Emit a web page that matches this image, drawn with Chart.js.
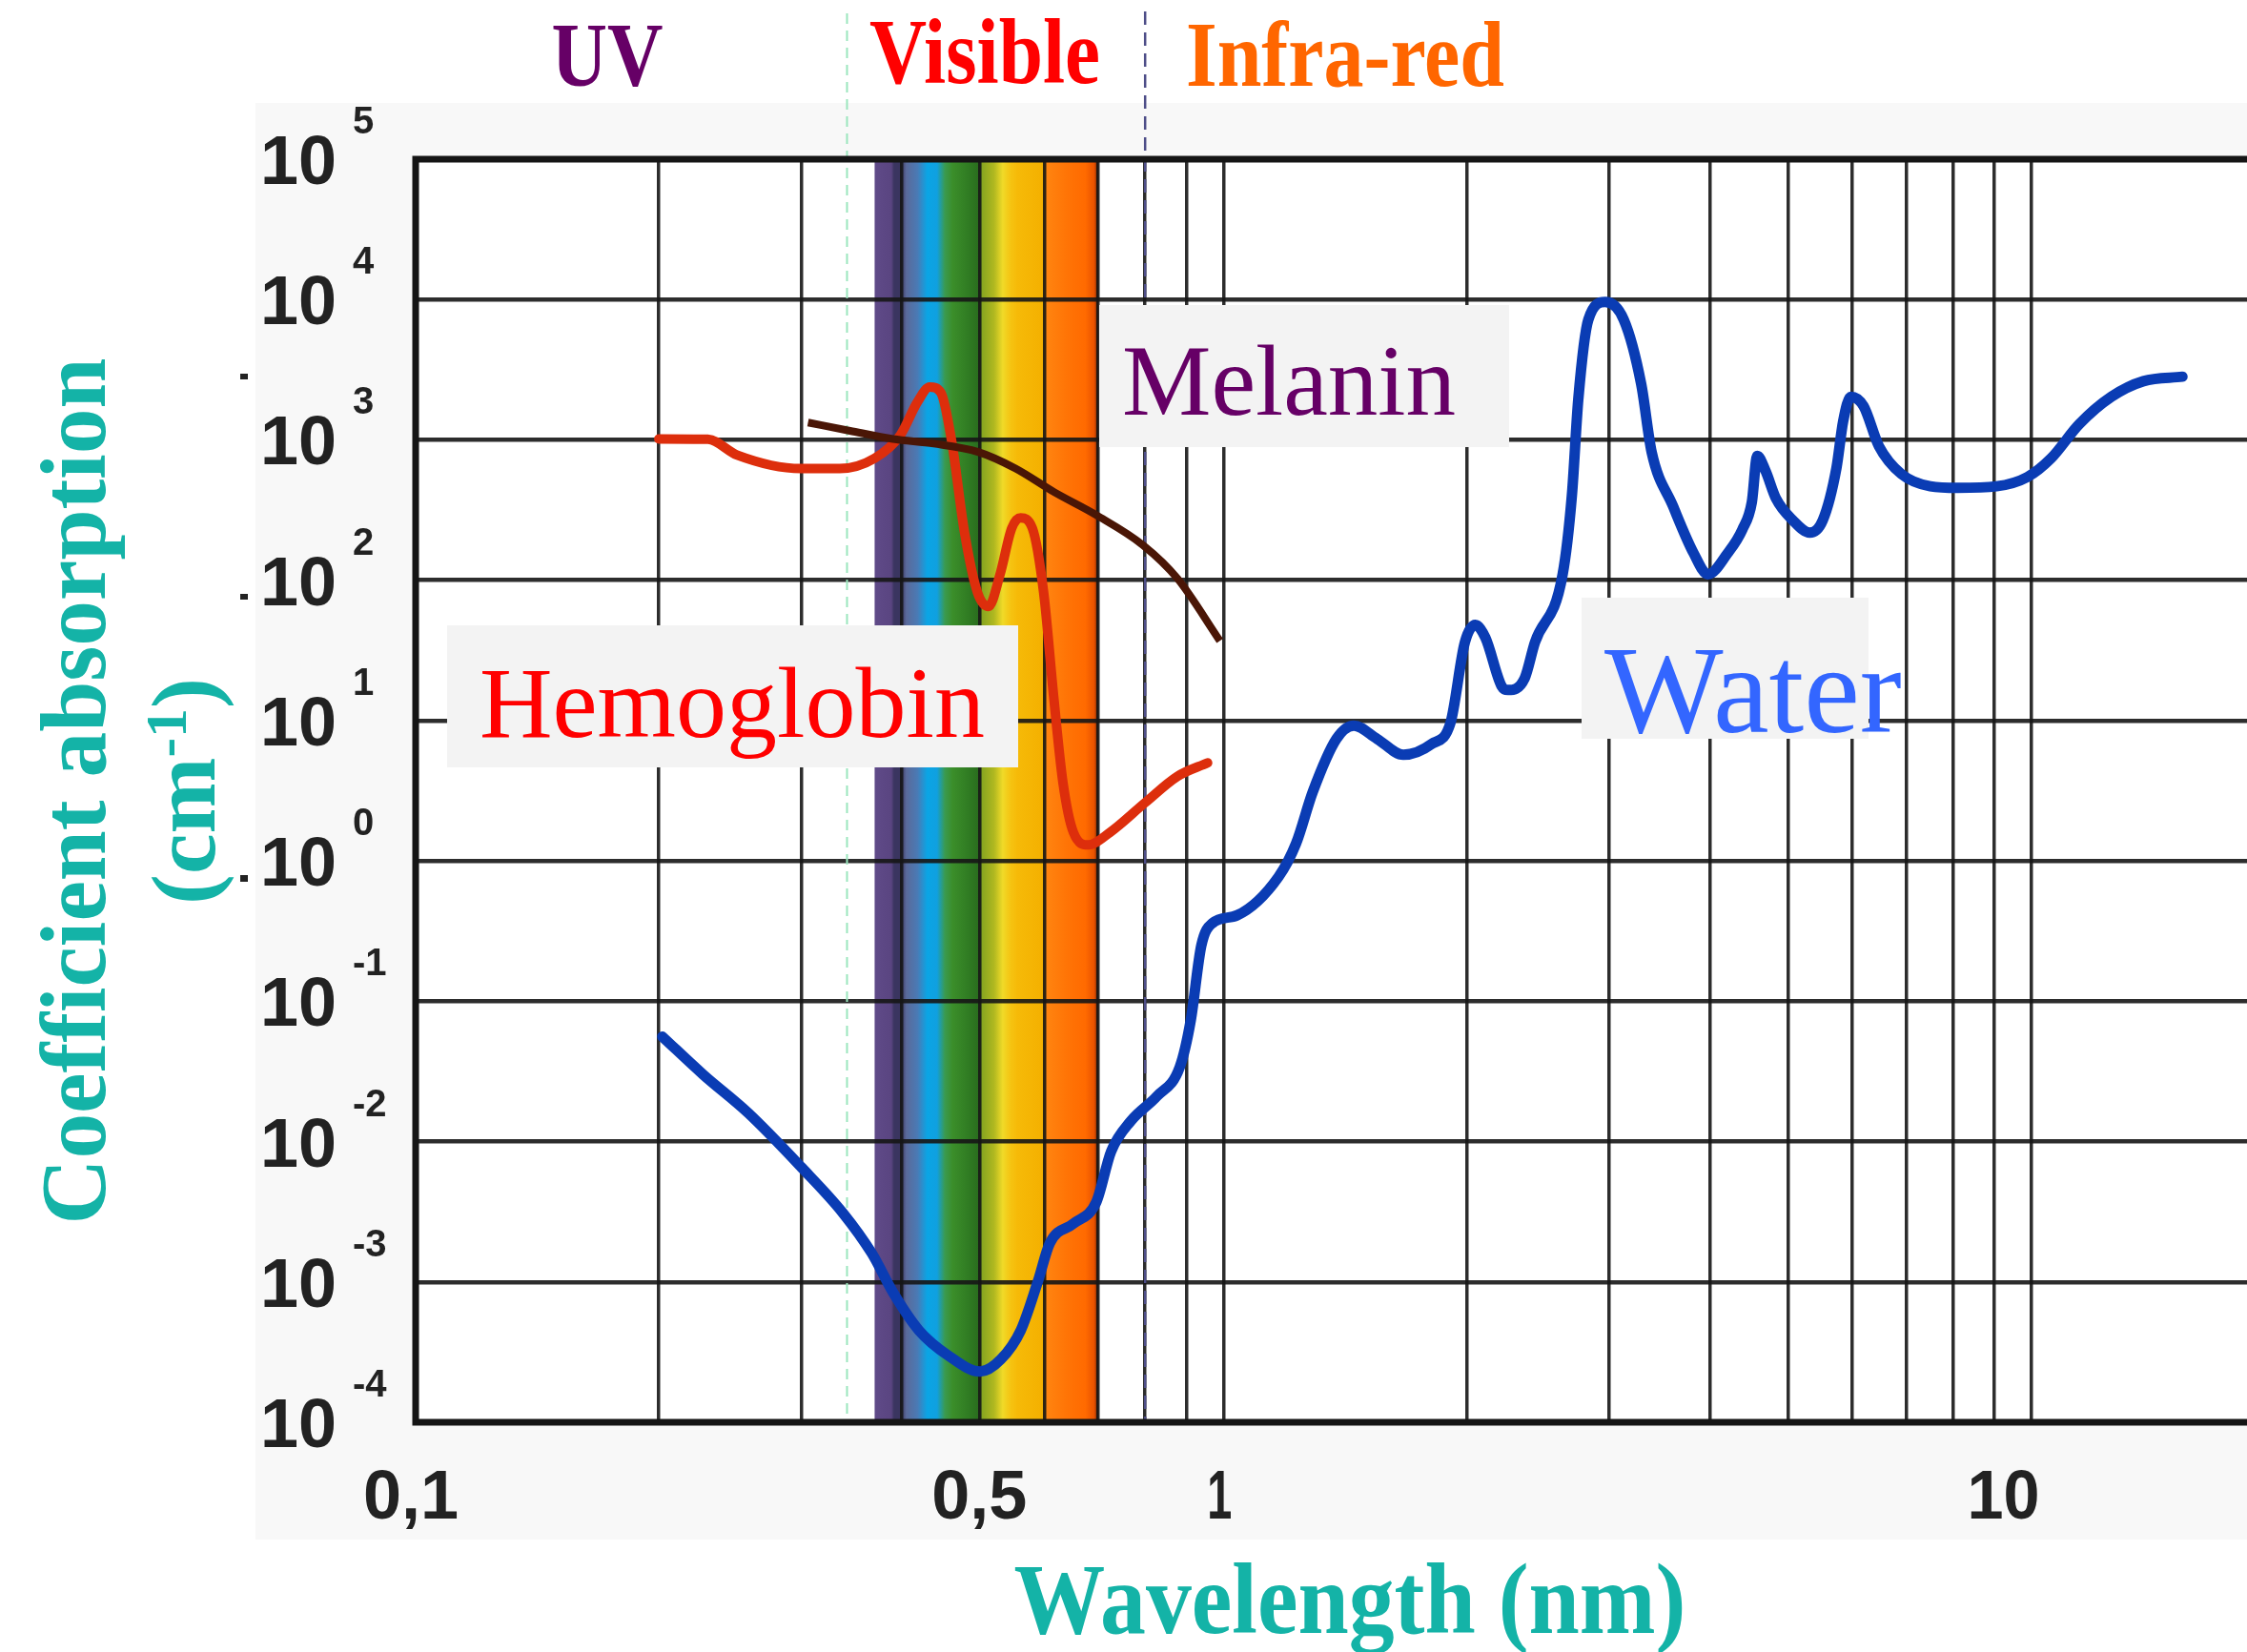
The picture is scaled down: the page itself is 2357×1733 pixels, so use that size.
<!DOCTYPE html>
<html>
<head>
<meta charset="utf-8">
<script src="https://cdn.jsdelivr.net/npm/chart.js@4.4.1/dist/chart.umd.min.js"></script>
<style>
html,body{margin:0;padding:0;background:#fff;overflow:hidden}
canvas{display:block}
</style>
</head>
<body>
<canvas id="c" width="2357" height="1733" style="width:2357px;height:1733px"></canvas>
<script>
// ---------- data (wavelength in the axis unit, absorption coefficient in cm^-1) ----------
const waterWavelength = [0.202,0.227,0.258,0.3,0.338,0.367,0.39,0.42,0.456,0.5,0.53,0.561,0.589,0.61,0.652,0.696,0.726,0.768,0.827,0.883,0.911,0.939,0.969,1.04,1.17,1.23,1.29,1.38,1.45,1.55,1.67,1.81,1.91,1.99,2.05,2.11,2.21,2.25,2.36,2.43,2.63,2.70,2.75,2.83,2.97,3.13,3.29,3.39,3.6,3.82,3.98,4.21,4.39,4.51,4.58,4.69,4.83,5.07,5.32,5.52,5.74,5.85,5.98,6.2,6.48,6.91,7.5,8.11,9.06,9.89,10.58,11.47,12.57,13.77,15.39];
const waterAbsorption = [0.056,0.030,0.016,0.0066,0.0031,0.0016,0.00084,0.00045,0.0003,0.00023,0.00028,0.00045,0.001,0.0019,0.0026,0.0037,0.0085,0.014,0.021,0.034,0.073,0.25,0.36,0.41,0.77,1.33,3.1,7.4,9.2,7.4,5.7,6.8,9.6,36,48,39,17.6,16.5,20,36,110,400,1950,7200,9600,7200,2500,815,340,156,110,156,230,360,770,600,383,267,218,267,630,1350,2030,1745,900,570,467,455,467,543,737,1295,2030,2620,2820];

const hemoglobinWavelength = [0.2,0.23,0.25,0.3,0.335,0.37,0.398,0.418,0.433,0.447,0.461,0.478,0.496,0.512,0.529,0.547,0.561,0.58,0.599,0.617,0.633,0.652,0.68,0.724,0.8,0.877,0.956];
const hemoglobinAbsorption = [1015,1010,780,625,625,740,1080,1860,2380,2170,970,220,82,65,110,235,278,235,82,14,3.6,1.6,1.3,1.6,2.6,4.0,5.0];

const melaninWavelength = [0.306,0.345,0.39,0.438,0.497,0.553,0.617,0.697,0.795,0.877,0.99];
const melaninAbsorption = [1330,1160,1015,940,820,625,425,290,178,103,37];

// grid / tick values
const xGridValues = [0.1,0.2,0.3,0.4,0.5,0.6,0.7,0.8,0.9,1,2,3,4,5,6,7,8,9,10];
const yGridValues = [1e-4,1e-3,1e-2,1e-1,1,10,100,1e3,1e4,1e5];
const xTickValues = [0.1,0.5,1,10];
const xTickLabels = ['0,1','0,5','1','10'];
const yTickExponents = ['-4','-3','-2','-1','0','1','2','3','4','5'];

// visible spectrum band (wavelength -> colour)
const spectrumWavelength = [0.370,0.388,0.391,0.399,0.405,0.418,0.43,0.442,0.452,0.462,0.485,0.497,0.503,0.52,0.533,0.545,0.556,0.598,0.604,0.64,0.675,0.692,0.7];
const spectrumColor = ['#5F4A88','#5A4581','#3A3560','#3A3560','#5A6A9A','#4A7AB5','#0AA5E5','#10A0E0','#3A9A50','#3B8E2A','#2F7A22','#2A6E1E','#88A620','#B0B820','#F0DA28','#F5C412','#F6BA08','#F4B000','#FF8410','#FF7406','#FF6A00','#E85200','#5A1A05'];

// region boundaries (dashed lines)
const uvVisibleBoundary = 0.342;
const visibleIrBoundary = 0.8;

// ---------- drawing ----------
const SERIF = '"Liberation Serif", "Times New Roman", serif';
const SANS = '"Liberation Sans", Arial, sans-serif';
const TEAL = '#14B3A7';

function pts(xs, ys){ return xs.map((v,i)=>({x:v, y:ys[i]})); }

const decor = {
  id: 'decor',
  beforeDraw(chart){
    const {ctx, chartArea:a, scales:{x}} = chart;
    ctx.save();
    ctx.fillStyle = '#ffffff';
    ctx.fillRect(0,0,chart.width,chart.height);
    ctx.fillStyle = '#F8F8F8';
    ctx.fillRect(268,108,chart.width-268,1615-108);
    ctx.fillStyle = '#ffffff';
    ctx.fillRect(a.left,a.top,a.right-a.left,a.bottom-a.top);
    // spectrum
    const p0 = x.getPixelForValue(spectrumWavelength[0]);
    const p1 = x.getPixelForValue(spectrumWavelength[spectrumWavelength.length-1]);
    const g = ctx.createLinearGradient(p0,0,p1,0);
    spectrumWavelength.forEach((w,i)=>{
      g.addColorStop(Math.min(1,Math.max(0,(x.getPixelForValue(w)-p0)/(p1-p0))), spectrumColor[i]);
    });
    ctx.fillStyle = g;
    ctx.fillRect(p0,a.top,p1-p0,a.bottom-a.top);
    ctx.restore();
  },
  beforeDatasetsDraw(chart){
    const {ctx, chartArea:a, scales:{x}} = chart;
    ctx.save();
    // dashed boundaries
    ctx.lineWidth = 2;
    ctx.setLineDash([11,7]);
    ctx.strokeStyle = '#9BE6BD';
    let px = x.getPixelForValue(uvVisibleBoundary);
    ctx.beginPath(); ctx.moveTo(px,14); ctx.lineTo(px,a.bottom); ctx.stroke();
    ctx.strokeStyle = '#4E4E88';
    ctx.lineWidth = 2.5;
    ctx.setLineDash([14,8]);
    px = x.getPixelForValue(visibleIrBoundary);
    ctx.beginPath(); ctx.moveTo(px,12); ctx.lineTo(px,a.bottom); ctx.stroke();
    ctx.setLineDash([]);
    // plot frame (left, top, bottom)
    ctx.strokeStyle = '#151515';
    ctx.lineWidth = 7;
    ctx.beginPath();
    ctx.moveTo(a.right+5,a.top); ctx.lineTo(a.left,a.top); ctx.lineTo(a.left,a.bottom); ctx.lineTo(a.right+5,a.bottom);
    ctx.stroke();
    ctx.restore();
  },
  afterDatasetsDraw(chart){
    const {ctx} = chart;
    ctx.save();
    ctx.fillStyle = '#F3F3F3';
    ctx.fillRect(1153,320,430,149);   // Melanin box
    ctx.fillRect(469,656,599,149);    // Hemoglobin box
    ctx.fillRect(1659,627,301,148);   // Water box
    ctx.textBaseline = 'alphabetic';
    ctx.textAlign = 'left';
    ctx.fillStyle = '#660066';
    ctx.font = '106px ' + SERIF;
    ctx.fillText('Melanin', 1177, 435, 350);
    ctx.fillStyle = '#FF0000';
    ctx.font = '106px ' + SERIF;
    ctx.fillText('Hemoglobin', 503, 773, 534);
    ctx.fillStyle = '#3366FF';
    ctx.font = '132px ' + SERIF;
    ctx.fillText('Water', 1683, 768, 313);
    ctx.restore();
  },
  afterDraw(chart){
    const {ctx, scales:{x,y}} = chart;
    ctx.save();
    ctx.fillStyle = '#222222';
    // y tick labels 10^n
    yGridValues.forEach((v,i)=>{
      const py = y.getPixelForValue(v);
      ctx.font = 'bold 72px ' + SANS;
      ctx.textAlign = 'right';
      ctx.textBaseline = 'alphabetic';
      ctx.fillText('10', 353, py+26, 80);
      ctx.font = 'bold 40px ' + SANS;
      ctx.textAlign = 'left';
      ctx.fillText(yTickExponents[i], 370, py-27);
    });
    // stray marks left of labels
    ctx.fillRect(252,392,8,6);
    ctx.fillRect(252,623,8,6);
    ctx.fillRect(252,918,8,7);
    // x tick labels
    const shift = [-5,-1,-4,-29];
    ctx.font = 'bold 72px ' + SANS;
    ctx.textAlign = 'center';
    const xw = [105,107,26,76];
    xTickValues.forEach((v,i)=>{
      ctx.fillText(xTickLabels[i], x.getPixelForValue(v)+shift[i], 1593, xw[i]);
    });
    // region headings
    ctx.font = 'bold 95px ' + SERIF;
    ctx.fillStyle = '#660066';
    ctx.fillText('UV', 637, 90, 117);
    ctx.font = 'bold 98px ' + SERIF;
    ctx.fillStyle = '#FF0000';
    ctx.fillText('Visible', 1033, 87, 242);
    ctx.fillStyle = '#FF6600';
    ctx.fillText('Infra-red', 1411, 90, 334);
    // x axis title
    ctx.fillStyle = TEAL;
    ctx.font = 'bold 106px ' + SERIF;
    ctx.fillText('Wavelength (nm)', 1416, 1713, 705);
    // y axis title (two lines, rotated)
    ctx.save();
    ctx.translate(110, 830);
    ctx.rotate(-Math.PI/2);
    ctx.font = 'bold 98px ' + SERIF;
    ctx.textAlign = 'center';
    ctx.fillText('Coefficient absorption', 0, 0, 909);
    ctx.restore();
    ctx.save();
    ctx.translate(225, 830);
    ctx.rotate(-Math.PI/2);
    const f1 = 'bold 96px ' + SERIF, f2 = 'bold 62px ' + SERIF;
    ctx.font = f1; const w1 = ctx.measureText('(cm').width; const w3 = ctx.measureText(')').width;
    ctx.font = f2; const w2 = ctx.measureText('-1').width;
    let sx = -(w1+w2+w3)/2;
    ctx.textAlign = 'left';
    ctx.font = f1; ctx.fillText('(cm', sx, 0); sx += w1;
    ctx.font = f2; ctx.fillText('-1', sx, -30); sx += w2;
    ctx.font = f1; ctx.fillText(')', sx, 0);
    ctx.restore();
    ctx.restore();
  }
};

new Chart(document.getElementById('c'), {
  type: 'line',
  data: {
    datasets: [
      {label:'Water', data: pts(waterWavelength, waterAbsorption), borderColor:'#0A3CB4', borderWidth:11, pointRadius:0, cubicInterpolationMode:'monotone', fill:false, borderCapStyle:'round', borderJoinStyle:'round'},
      {label:'Melanin', data: pts(melaninWavelength, melaninAbsorption), borderColor:'#4A1606', borderWidth:8, pointRadius:0, cubicInterpolationMode:'monotone', fill:false, borderJoinStyle:'round'},
      {label:'Hemoglobin', data: pts(hemoglobinWavelength, hemoglobinAbsorption), borderColor:'#DD2E0C', borderWidth:10, pointRadius:0, cubicInterpolationMode:'monotone', fill:false, borderCapStyle:'round', borderJoinStyle:'round'}
    ]
  },
  options: {
    responsive: false,
    devicePixelRatio: 1,
    animation: false,
    layout: {padding: {left:436, top:167, right:0, bottom:241}},
    plugins: {legend:{display:false}, tooltip:{enabled:false}},
    scales: {
      x: {
        type:'logarithmic', min:0.1, max:18.5,
        afterBuildTicks: s => { s.ticks = xGridValues.map(v=>({value:v})); },
        ticks:{display:false, autoSkip:false},
        grid:{color:'rgba(22,22,22,0.9)', lineWidth:3.5, drawTicks:false},
        border:{display:false}
      },
      y: {
        type:'logarithmic', min:1e-4, max:1e5,
        afterBuildTicks: s => { s.ticks = yGridValues.map(v=>({value:v})); },
        ticks:{display:false, autoSkip:false},
        grid:{color:'rgba(22,22,22,0.9)', lineWidth:4.5, drawTicks:false},
        border:{display:false}
      }
    }
  },
  plugins: [decor]
});
</script>
</body>
</html>
